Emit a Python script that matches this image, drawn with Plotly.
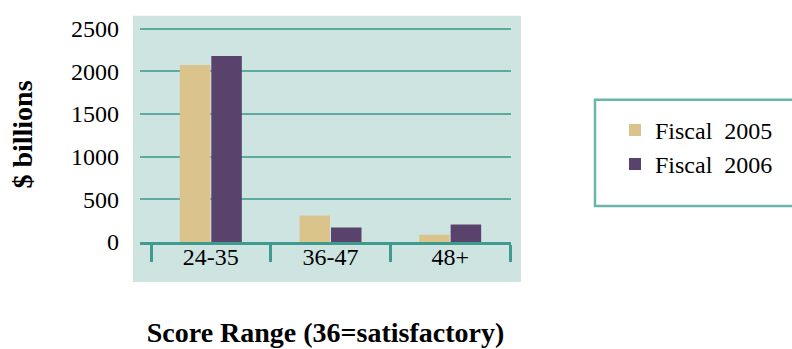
import plotly.graph_objects as go

# Score ranges and dollar amounts ($ billions) by fiscal year
categories = ["24-35", "36-47", "48+"]
fiscal_2005 = [2075, 310, 85]
fiscal_2006 = [2180, 170, 205]
y_ticks = [0, 500, 1000, 1500, 2000, 2500]

TAN = "#dbc48c"
PURPLE = "#59426b"
PANEL = "#cde4e1"
GRID = "#5daa9f"
AXIS = "#3f9a8f"
FONT = "Liberation Serif, Times New Roman, serif"

fig = go.Figure()
fig.add_trace(go.Bar(name="Fiscal  2005", x=categories, y=fiscal_2005,
                     marker=dict(color=TAN, line=dict(width=0)), legendgroup="a"))
fig.add_trace(go.Bar(name="Fiscal  2006", x=categories, y=fiscal_2006,
                     marker=dict(color=PURPLE, line=dict(width=0)), legendgroup="b"))

W, H = 792, 349
Y_TOP = 2520  # a little headroom so the 2500 gridline is drawn
L, R, B = 140, W - 511, H - 242
T = 29 - (Y_TOP - 2500) * 213 / 2500
pw, ph = W - L - R, H - T - B

# shaded panel slightly larger than the plotting area
fig.add_shape(type="rect", xref="paper", yref="paper", layer="below",
              x0=(133 - L) / pw, x1=(521 - L) / pw,
              y0=(242 - 282) / ph, y1=(242 - 16) / ph,
              fillcolor=PANEL, line=dict(width=0))
# legend frame running off the right edge
fig.add_shape(type="rect", xref="paper", yref="paper",
              x0=(595 - L) / pw, x1=(800 - L) / pw,
              y0=(242 - 206) / ph, y1=(242 - 100) / ph,
              fillcolor="rgba(0,0,0,0)", line=dict(color="#6ab5ac", width=2.5))

fig.update_layout(
    width=W, height=H,
    margin=dict(l=L, r=R, t=T, b=B, autoexpand=False),
    paper_bgcolor="white", plot_bgcolor=PANEL,
    barmode="group", bargap=0.474, bargroupgap=0.03,
    font=dict(family=FONT, color="black", size=24),
    showlegend=True,
    legend=dict(x=(615 - L) / pw, xanchor="left", y=(242 - 108) / ph, yanchor="top",
                bgcolor="rgba(0,0,0,0)", borderwidth=0,
                font=dict(family=FONT, size=24, color="black"),
                tracegroupgap=5, traceorder="normal"),
)

fig.update_xaxes(
    range=[-0.5 - 11 / 119.67, 2.5 + 1 / 119.67],
    showline=True, linecolor=AXIS, linewidth=3,
    ticks="outside", tickson="boundaries", ticklen=17, tickwidth=2.5, tickcolor=AXIS,
    ticklabelstandoff=-9,
    tickfont=dict(family=FONT, size=24, color="black"),
    showgrid=False, zeroline=False,
    title=dict(text="<b>Score Range (36=satisfactory)</b>",
               font=dict(family=FONT, size=28, color="black"), standoff=54),
)
fig.update_yaxes(
    range=[0, Y_TOP], tickvals=y_ticks,
    showgrid=True, gridcolor=GRID, gridwidth=1.5,
    zeroline=False, showline=False, ticks="",
    ticklabelstandoff=20,
    tickfont=dict(family=FONT, size=24, color="black"),
    title=dict(text="<b>$ billions</b>",
               font=dict(family=FONT, size=28, color="black"), standoff=30),
)

fig.write_html("out.html")
